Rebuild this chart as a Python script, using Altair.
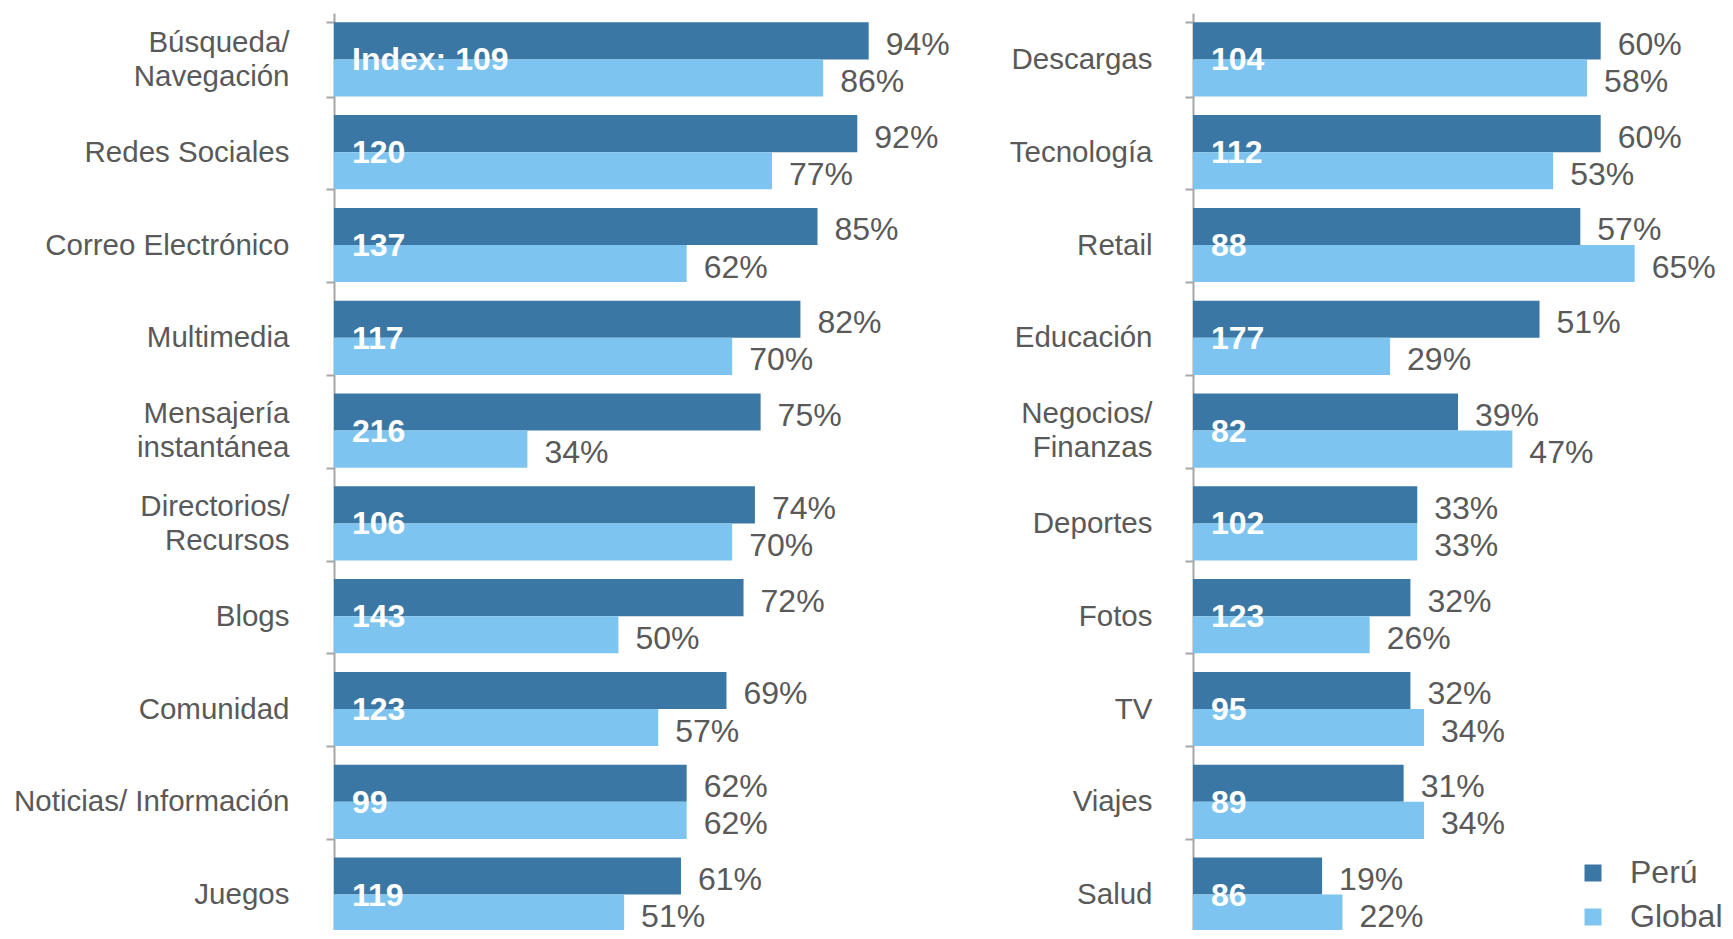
import altair as alt
import pandas as pd

FONT = "Liberation Sans"
DARK = "#3A77A4"
LIGHT = "#7DC5F0"
TEXT_GRAY = "#595959"
AXIS_GRAY = "#A6A6A6"

series = ["Perú", "Global"]

left_categories = ["Búsqueda/\nNavegación", "Redes Sociales", "Correo Electrónico", "Multimedia",
                   "Mensajería\ninstantánea", "Directorios/\nRecursos", "Blogs", "Comunidad",
                   "Noticias/ Información", "Juegos"]
left_peru = [94, 92, 85, 82, 75, 74, 72, 69, 62, 61]
left_global = [86, 77, 62, 70, 34, 70, 50, 57, 62, 51]
left_index = [109, 120, 137, 117, 216, 106, 143, 123, 99, 119]

right_categories = ["Descargas", "Tecnología", "Retail", "Educación", "Negocios/\nFinanzas",
                    "Deportes", "Fotos", "TV", "Viajes", "Salud"]
right_peru = [60, 60, 57, 51, 39, 33, 32, 32, 31, 19]
right_global = [58, 53, 65, 29, 47, 33, 26, 34, 34, 22]
right_index = [104, 112, 88, 177, 82, 102, 123, 95, 89, 86]

PLOT_H = 928


def build_panel(cats, peru, glob, idx, width, xmax, label_padding, extent, first_prefix):
    rows = []
    for c, p, g in zip(cats, peru, glob):
        rows.append({"category": c, "serie": "Perú", "value": p, "lbl": f"{p}%"})
        rows.append({"category": c, "serie": "Global", "value": g, "lbl": f"{g}%"})
    df = pd.DataFrame(rows)
    idx_df = pd.DataFrame({
        "category": cats,
        "txt": [(first_prefix + str(v)) if i == 0 else str(v) for i, v in enumerate(idx)],
    })

    axis_kwargs = dict(
        title=None,
        labelExpr="split(datum.label, '\\n')",
        labelFont=FONT,
        labelFontSize=29.5,
        labelColor=TEXT_GRAY,
        labelPadding=label_padding,
        labelLimit=500,
        labelLineHeight=34,
        labelOffset={"condition": {"test": "indexof(datum.label, '\\n') >= 0", "value": -17}, "value": 0},
        tickSize=8,
        tickBand="extent",
        tickColor=AXIS_GRAY,
        tickWidth=2,
        domainColor=AXIS_GRAY,
        domainWidth=2,
        grid=False,
    )
    if extent is not None:
        axis_kwargs["minExtent"] = extent
        axis_kwargs["maxExtent"] = extent

    y_enc = alt.Y("category:N", sort=cats,
                  scale=alt.Scale(paddingInner=0.2, paddingOuter=0.1),
                  axis=alt.Axis(**axis_kwargs))
    yoff = alt.YOffset("serie:N", sort=series)
    x_enc = alt.X("value:Q", scale=alt.Scale(domain=[0, xmax], nice=False, zero=True), axis=None)

    color = alt.Color(
        "serie:N", sort=series,
        scale=alt.Scale(domain=series, range=[DARK, LIGHT]),
        legend=alt.Legend(
            title=None, orient="none", legendX=1243, legendY=844,
            symbolType="square", symbolSize=289, symbolStrokeWidth=0,
            labelFont=FONT, labelFontSize=32, labelColor=TEXT_GRAY,
            rowPadding=12, labelOffset=21, padding=0,
        ),
    )

    bars = alt.Chart(df).mark_bar().encode(y=y_enc, yOffset=yoff, x=x_enc, color=color)
    pct = alt.Chart(df).mark_text(
        align="left", baseline="middle", dx=17, dy=4, fontSize=32, font=FONT, color=TEXT_GRAY
    ).encode(y=y_enc, yOffset=yoff, x=x_enc, text="lbl:N")
    idx_text = alt.Chart(idx_df).mark_text(
        align="left", baseline="middle", dy=1, fontSize=32, font=FONT, fontWeight="bold", color="white"
    ).encode(y=y_enc, x=alt.value(18), text="txt:N")

    return alt.layer(bars, pct, idx_text).properties(width=width, height=PLOT_H)


left = build_panel(left_categories, left_peru, left_global, left_index,
                   width=620, xmax=109, label_padding=37, extent=315, first_prefix="Index: ")
right = build_panel(right_categories, right_peru, right_global, right_index,
                    width=530, xmax=78, label_padding=33, extent=None, first_prefix="")

chart = alt.hconcat(left, right, spacing=239, bounds="flush").properties(
    padding={"left": 5, "top": -10, "right": 0, "bottom": -11}
).configure_view(strokeWidth=0)

chart.save("out.html", embed_options={"renderer": "svg", "actions": False})
